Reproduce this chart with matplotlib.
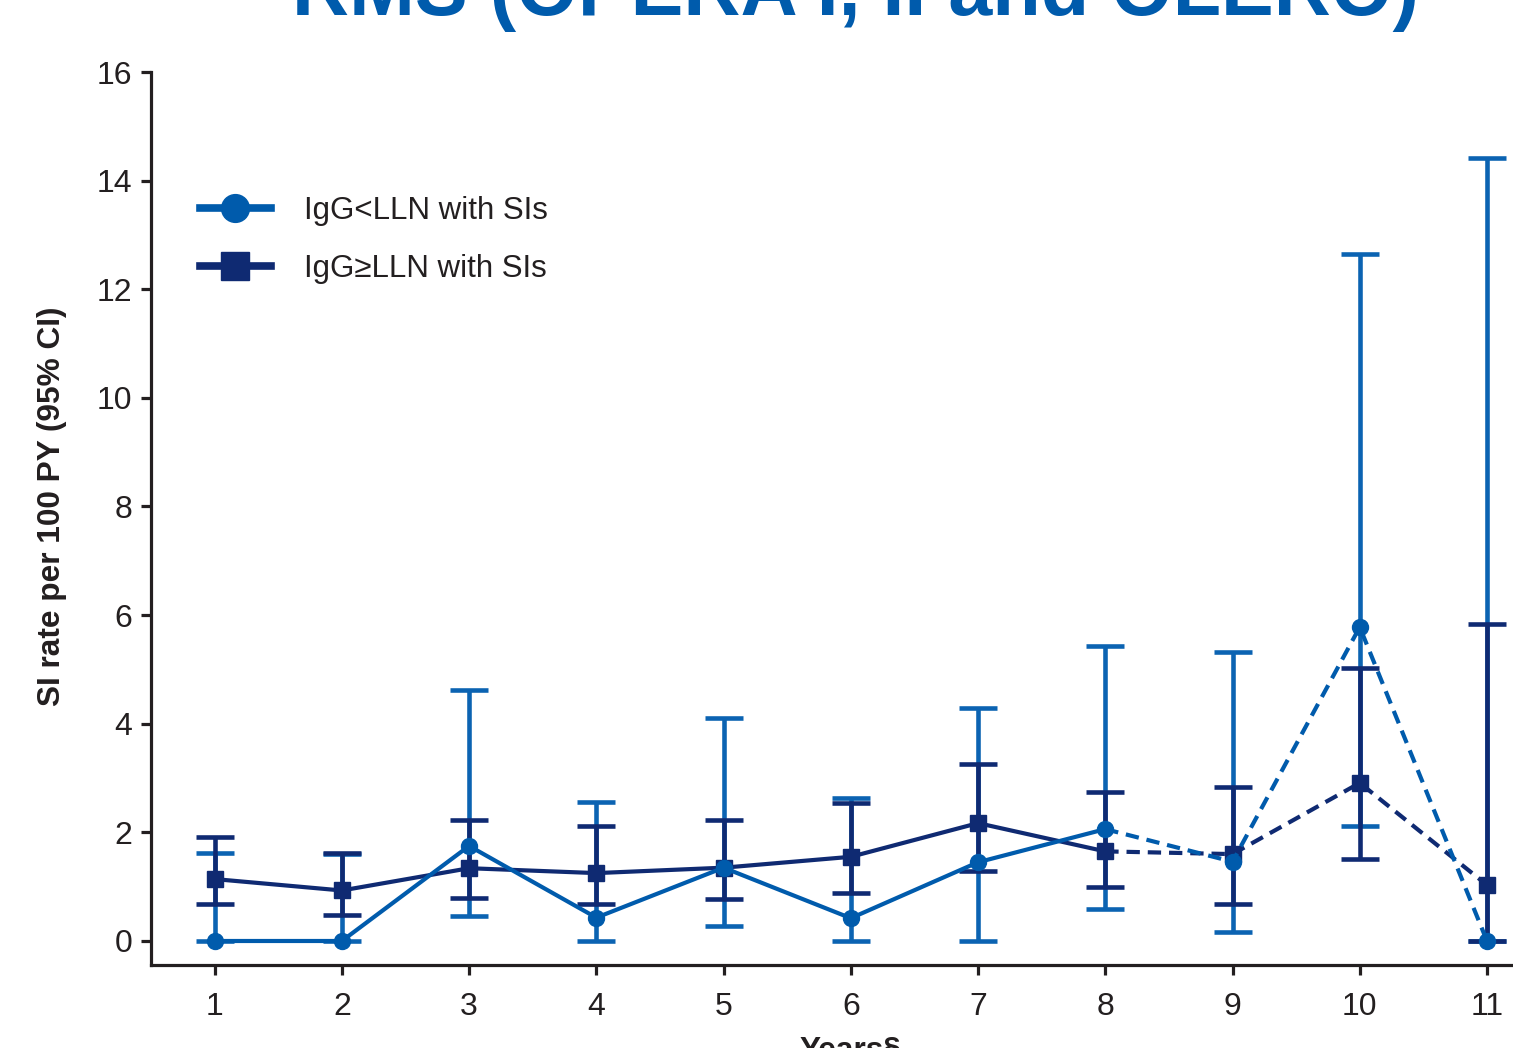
import matplotlib
matplotlib.use("Agg")
import matplotlib.pyplot as plt
from matplotlib.lines import Line2D

plt.rcParams['font.family'] = ['Liberation Sans', 'DejaVu Sans']

years = [1, 2, 3, 4, 5, 6, 7, 8, 9, 10, 11]
low_rate = [0.0, 0.0, 1.75, 0.43, 1.35, 0.42, 1.45, 2.06, 1.46, 5.78, 0.0]
low_lo = [0.0, 0.0, 0.46, 0.0, 0.27, 0.0, 0.0, 0.58, 0.16, 2.12, 0.0]
low_hi = [1.62, 1.60, 4.62, 2.56, 4.10, 2.63, 4.29, 5.43, 5.33, 12.65, 14.42]
high_rate = [1.14, 0.93, 1.34, 1.25, 1.35, 1.55, 2.17, 1.65, 1.60, 2.91, 1.03]
high_lo = [0.68, 0.47, 0.79, 0.68, 0.77, 0.88, 1.29, 0.99, 0.68, 1.51, 0.0]
high_hi = [1.92, 1.62, 2.23, 2.12, 2.23, 2.54, 3.26, 2.74, 2.84, 5.02, 5.84]
solid_end = 8  # last year joined by a solid line

y_ticks = [0, 2, 4, 6, 8, 10, 12, 14, 16]
labels = ["IgG<LLN with SIs", "IgG\u2265LLN with SIs"]
title = "RMS (OPERA I, II and OLERO)"

c_low = '#005BAC'
c_low_err = '#0B63B2'
c_high = '#0F2A72'
c_text = '#231F20'

W, H = 1513, 1048
fig = plt.figure(figsize=(W / 100, H / 100), dpi=100)
ax = fig.add_axes([151 / W, 1 - 965 / H, (1550.6 - 151) / W, (965 - 72) / H])

ks = solid_end
ax.errorbar(years, low_rate,
            yerr=[[r - l for r, l in zip(low_rate, low_lo)], [h - r for r, h in zip(low_rate, low_hi)]],
            fmt='none', ecolor=c_low_err, elinewidth=3.3, capsize=13.5, capthick=3.3, zorder=2)
ax.errorbar(years, high_rate,
            yerr=[[r - l for r, l in zip(high_rate, high_lo)], [h - r for r, h in zip(high_rate, high_hi)]],
            fmt='none', ecolor=c_high, elinewidth=3.3, capsize=13.5, capthick=3.3, zorder=3)

dash = (3.2, 1.9)
ax.plot(years[:ks], high_rate[:ks], color=c_high, lw=3, zorder=4)
ax.plot(years[ks - 1:], high_rate[ks - 1:], color=c_high, lw=3, ls=(0, dash), zorder=4)
ax.plot(years, high_rate, ls='none', marker='s', ms=12, color=c_high, zorder=4.5)
ax.plot(years[:ks], low_rate[:ks], color=c_low, lw=3, zorder=5)
ax.plot(years[ks - 1:], low_rate[ks - 1:], color=c_low, lw=3, ls=(0, dash), zorder=5)
ax.plot(years, low_rate, ls='none', marker='o', ms=11.5, color=c_low, zorder=5.5)

ax.set_xlim(0.5, 11.5)
ax.set_ylim(-0.442, 16)
ax.set_xticks(years)
ax.set_yticks(y_ticks)
for s in ['top', 'right']:
    ax.spines[s].set_visible(False)
for s in ['left', 'bottom']:
    ax.spines[s].set_linewidth(2.3)
    ax.spines[s].set_color(c_text)
ax.tick_params(axis='both', length=7.5, width=2.3, color=c_text,
               labelsize=23, labelcolor=c_text)
ax.tick_params(axis='x', pad=12)
ax.tick_params(axis='y', pad=6)

ax.set_ylabel("SI rate per 100 PY (95% CI)", fontsize=22.8, fontweight='bold',
              color=c_text, labelpad=21)
ax.yaxis.label.set_y(0.5 + 12 / 893)
ax.set_xlabel("Years\u00a7", fontsize=22.8, fontweight='bold', color=c_text, labelpad=10)

handles = [Line2D([], [], color=c_low, lw=5.5, marker='o', ms=20),
           Line2D([], [], color=c_high, lw=5.5, marker='s', ms=20)]
leg = ax.legend(handles, labels, loc='upper left', bbox_to_anchor=(200 / W, 1 - 196 / H),
                bbox_transform=fig.transFigure, frameon=False, fontsize=22.5,
                handlelength=2.27, handletextpad=1.05, borderpad=0, borderaxespad=0,
                labelspacing=0.88)
for t in leg.get_texts():
    t.set_color(c_text)

fig.text(856 / W, 1 - 15 / H, title, ha='center', va='baseline', fontsize=57,
         fontweight='bold', color='#005BAC')

fig.savefig('out.png', dpi=100)
